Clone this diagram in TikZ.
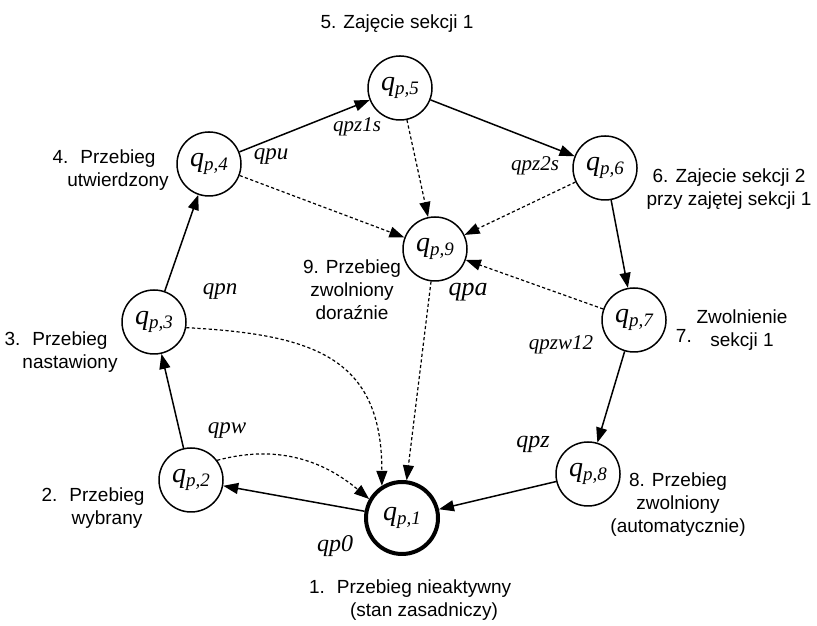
\documentclass[tikz,border=0pt]{standalone}
\usepackage{fontspec}
\setmainfont{Liberation Sans}
\newfontfamily\tmsfont{Liberation Serif}
\usetikzlibrary{arrows.meta,positioning}
\newcommand{\qst}[1]{q\raisebox{-1.6pt}{\fontsize{9.5}{9.5}\selectfont p,#1}}

\begin{document}
\begin{tikzpicture}[x=0.5pt, y=0.5pt,
    state/.style={circle, draw, line width=0.75pt, minimum size=32pt, inner sep=0pt, font=\tmsfont\itshape\fontsize{14}{14}\selectfont},
    startstate/.style={state, line width=2pt, minimum size=36pt},
    lbl/.style={align=center, inner sep=1pt, font=\fontsize{9.5}{11.5}\selectfont},
    elbl/.style={inner sep=0pt, font=\tmsfont\itshape\fontsize{11.5}{11.5}\selectfont},
    move/.style={-{Triangle[length=7.5pt,width=5.5pt]}, line width=0.75pt},
    release/.style={-{Triangle[length=7.5pt,width=5.5pt]}, line width=0.6pt, dash pattern=on 1.6pt off 1.2pt}
  ]
  \useasboundingbox (0,0) rectangle (817,625);

  % States
  \node[startstate] (q1) at (402,107) {\qst{1}};
  \node[state] (q2) at (191,145) {\qst{2}};
  \node[state] (q3) at (154,303) {\qst{3}};
  \node[state] (q4) at (209,461) {\qst{4}};
  \node[state] (q5) at (400,537) {\qst{5}};
  \node[state] (q6) at (605,457) {\qst{6}};
  \node[state] (q7) at (634,305) {\qst{7}};
  \node[state] (q8) at (588,151) {\qst{8}};
  \node[state] (q9) at (435,376) {\qst{9}};

  % Descriptions
  \node[lbl] (l1) at (424,25) {\llap{1.\hspace{6pt}}Przebieg nieaktywny\\(stan zasadniczy)};
  \node[lbl] (l2) at (107,117) {\llap{2.\hspace{6pt}}Przebieg\\wybrany};
  \node[lbl] (l3) at (70,273) {\llap{3.\hspace{6pt}}Przebieg\\nastawiony};
  \node[lbl] (l4) at (118,455) {\llap{4.\hspace{6pt}}Przebieg\\utwierdzony};
  \node[lbl] (l5) at (397,601) {5. Zajęcie sekcji 1};
  \node[lbl] (l6) at (729,436) {6. Zajecie sekcji 2\\przy zajętej sekcji 1};
  \node[lbl] (l7) at (742,295) {Zwolnienie\\sekcji 1};
  \node[lbl, left=0pt of l7, yshift=-3pt] (l7n) {7.};
  \node[lbl] (l8) at (678,120) {8. Przebieg\\zwolniony\\(automatycznie)};
  \node[lbl] (l9) at (352,335) {9. Przebieg\\zwolniony\\doraźnie};

  % Transitions
  \draw[move] (q1) -- (q2);
  \draw[move] (q2) -- (q3);
  \draw[move] (q3) -- (q4);
  \draw[move] (q4) -- (q5);
  \draw[move] (q5) -- (q6);
  \draw[move] (q6) -- (q7);
  \draw[move] (q7) -- (q8);
  \draw[move] (q8) -- (q1);

  \draw[release] (q4) -- (q9);
  \draw[release] (q5) -- (q9);
  \draw[release] (q6) -- (q9);
  \draw[release] (q7) -- (q9);
  \draw[release] (q9) -- (q1);
  \draw[release] (q3.-10) to[out=-3, in=90, looseness=1.3] (q1.122);
  \draw[release] (q2.37) to[out=15, in=140] (q1.150);

  % Events
  \node[elbl] (eu) at (271,468) {qpu};
  \node[elbl, font=\tmsfont\itshape\fontsize{10.5}{10.5}\selectfont] (ez1) at (357,498) {qpz1s};
  \node[elbl, font=\tmsfont\itshape\fontsize{10.5}{10.5}\selectfont] (ez2) at (535,459) {qpz2s};
  \node[elbl] (en) at (220,333) {qpn};
  \node[elbl] (ew) at (227,194) {qpw};
  \node[elbl, font=\tmsfont\itshape\fontsize{12}{12}\selectfont] (e0) at (335,79) {qp0};
  \node[elbl, font=\tmsfont\itshape\fontsize{13}{13}\selectfont] (ea) at (468,333) {qpa};
  \node[elbl, font=\tmsfont\itshape\fontsize{10.5}{10.5}\selectfont] (ezw) at (561,280) {qpzw12};
  \node[elbl, font=\tmsfont\itshape\fontsize{12}{12}\selectfont] (ez) at (533,181) {qpz};
\end{tikzpicture}
\end{document}
